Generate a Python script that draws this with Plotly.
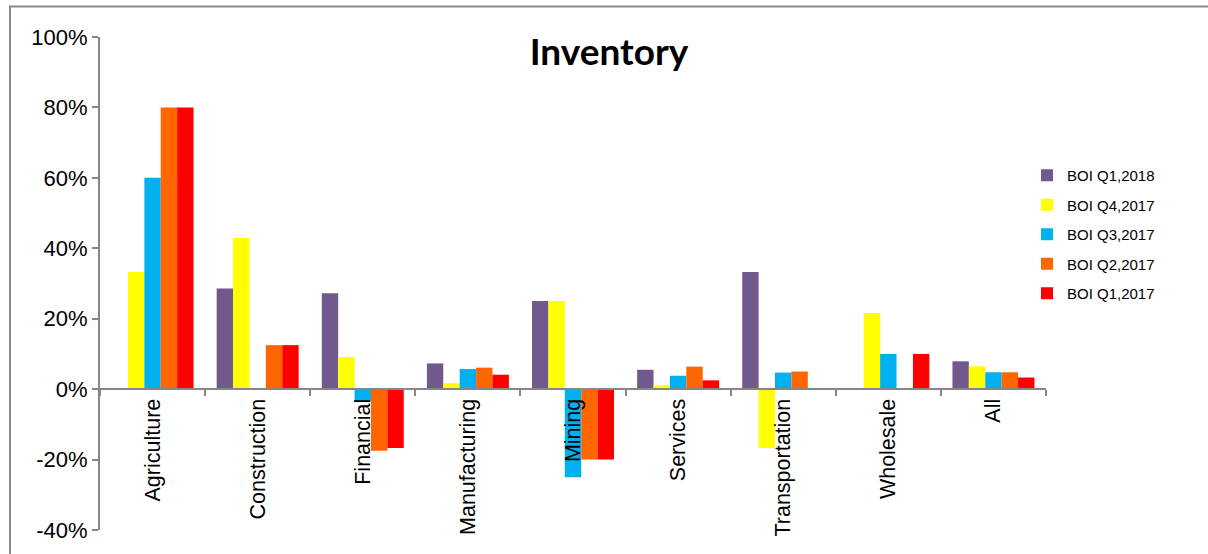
import plotly.graph_objects as go

categories = ["Agriculture", "Construction", "Financial", "Manufacturing", "Mining",
              "Services", "Transportation", "Wholesale", "All"]

series_names = ["BOI Q1,2018", "BOI Q4,2017", "BOI Q3,2017", "BOI Q2,2017", "BOI Q1,2017"]

boi_q1_2018 = [None, 28.6, 27.2, 7.3, 25.0, 5.5, 33.3, None, 7.9]
boi_q4_2017 = [33.3, 42.9, 9.1, 1.7, 25.0, 1.1, -16.7, 21.6, 6.5]
boi_q3_2017 = [60.0, None, -3.5, 5.7, -25.0, 3.8, 4.7, 10.0, 4.8]
boi_q2_2017 = [80.0, 12.5, -17.5, 6.1, -20.0, 6.4, 5.0, None, 4.8]
boi_q1_2017 = [80.0, 12.5, -16.7, 4.1, -20.0, 2.5, None, 10.0, 3.3]

series_values = [boi_q1_2018, boi_q4_2017, boi_q3_2017, boi_q2_2017, boi_q1_2017]
colors = ["#72598D", "#FFFF00", "#00B0F0", "#FF6600", "#FF0000"]

y_ticks = [-40, -20, 0, 20, 40, 60, 80, 100]
y_min, y_max = -40, 100

fig = go.Figure()
for i, (name, vals, col) in enumerate(zip(series_names, series_values, colors)):
    fig.add_trace(go.Bar(
        x=categories, y=vals, name=name,
        marker=dict(color=col, line=dict(width=0)),
        legendgroup=f"g{i}",
    ))

axis_col = "#868686"
fig.update_layout(
    width=1208, height=554,
    margin=dict(l=100, r=162, t=37, b=24),
    paper_bgcolor="white", plot_bgcolor="white",
    barmode="group", bargap=0.22, bargroupgap=0,
    font=dict(family="Liberation Sans, Arial, sans-serif", size=21, color="#000000"),
    title=dict(text="<b>Inventory</b>", font=dict(family="Lato, Open Sans, sans-serif", size=37, color="#000000"),
               x=0.538, xref="paper", xanchor="center", y=1 - 52 / 554, yref="container", yanchor="middle"),
    showlegend=True,
    legend=dict(x=(1027 - 100) / 946, xanchor="left", y=(530 - 159) / 493, yanchor="top",
                font=dict(size=15, family="Liberation Sans, Arial, sans-serif"),
                traceorder="grouped", tracegroupgap=7, bgcolor="rgba(0,0,0,0)"),
    xaxis=dict(
        showline=True, linecolor=axis_col, linewidth=2,
        ticks="outside", tickson="boundaries", ticklen=6, tickcolor=axis_col, tickwidth=2,
        tickangle=-90, showgrid=False, zeroline=False,
        anchor="free", position=(0 - y_min) / (y_max - y_min),
        tickfont=dict(size=21.5),
    ),
    yaxis=dict(
        range=[y_min, y_max], tickvals=y_ticks, ticktext=[f"{v}%" for v in y_ticks],
        showline=True, linecolor=axis_col, linewidth=2,
        ticks="outside", ticklen=6, tickcolor=axis_col, tickwidth=2,
        showgrid=False, zeroline=False, tickfont=dict(size=22),
    ),
    shapes=[dict(type="rect", xref="paper", yref="paper",
                 x0=(10 - 100) / 946, x1=1.25, y0=-0.2, y1=(530 - 6.5) / 493,
                 line=dict(color="#8a8a8a", width=2), fillcolor="rgba(0,0,0,0)", layer="below")],
)

fig.write_html("out.html")
